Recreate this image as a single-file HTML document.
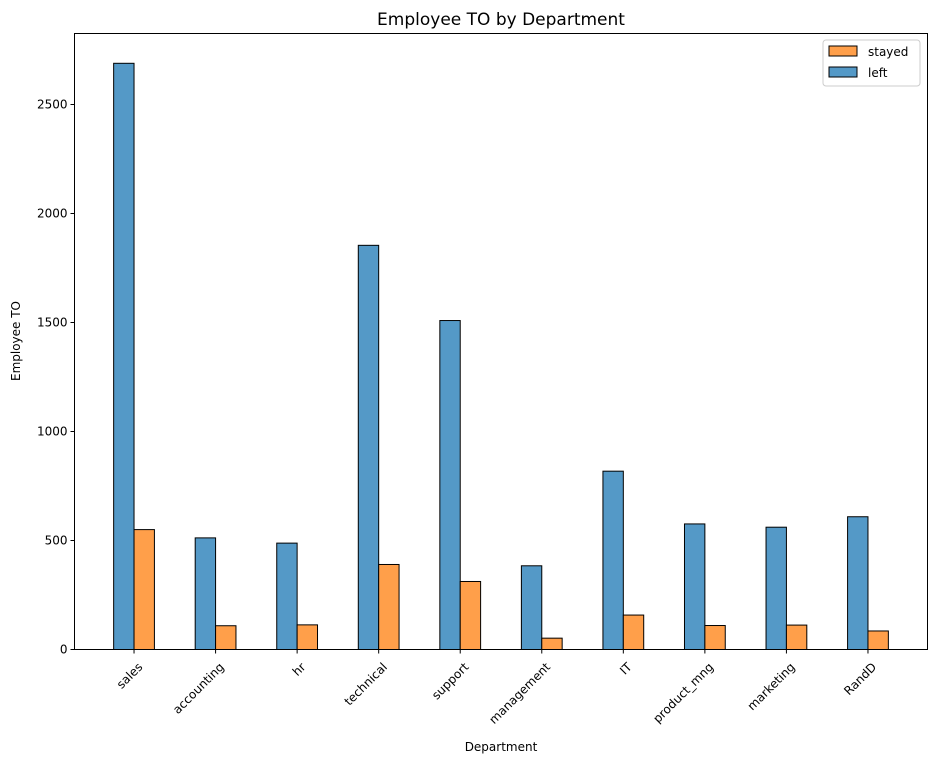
<!DOCTYPE html>
<html><head><meta charset="utf-8"><style>
body{margin:0;background:#fff;font-family:"Liberation Sans","DejaVu Sans",sans-serif}
</style></head><body>
<svg id="chart" width="936" height="764" xmlns="http://www.w3.org/2000/svg" font-family="'DejaVu Sans','Liberation Sans',sans-serif">
<text x="501" y="25" font-size="17" text-anchor="middle">Employee TO by Department</text>
<g id="plot"></g>
<text x="501" y="751" font-size="12" text-anchor="middle">Department</text>
<text transform="translate(20,341) rotate(-90)" font-size="12" text-anchor="middle">Employee TO</text>
<g>
<rect x="823" y="40" width="97" height="46" rx="3" fill="#fff" stroke="#ccc"/>
<rect x="829" y="46" width="28" height="10" fill="#ff9f4a" stroke="#000"/>
<text x="868" y="56" font-size="12">stayed</text>
<rect x="829" y="67" width="28" height="10" fill="#5499c7" stroke="#000"/>
<text x="868" y="77" font-size="12">left</text>
</g>
</svg>
<script>
const categories=["sales","accounting","hr","technical","support","management","IT","product_mng","marketing","RandD"];
const leftValues=[2689,512,488,1854,1509,384,818,576,561,609];
const stayedValues=[550,109,113,390,312,52,158,110,112,85];
const yTicks=[0,500,1000,1500,2000,2500];
const NS="http://www.w3.org/2000/svg";
const L=74.5,R=927.5,T=33.5,B=649.5;
const yScale=v=>B-v*(B-104.5)/2500;
const step=(R-L)/(categories.length-1+1.46);
const xScale=i=>L+step*(0.73+i);
const bw=step*0.25;
const g=document.getElementById('plot');
function mk(t,a){const e=document.createElementNS(NS,t);for(const k in a)e.setAttribute(k,a[k]);g.appendChild(e);return e;}
categories.forEach((c,i)=>{
 const x=xScale(i);
 const b1=mk('rect',{x:x-bw,y:yScale(leftValues[i]),width:bw,height:B-yScale(leftValues[i]),fill:'#5499c7',stroke:'#000'});
 
 
 const b2=mk('rect',{x:x,y:yScale(stayedValues[i]),width:bw,height:B-yScale(stayedValues[i]),fill:'#ff9f4a',stroke:'#000'});
 
 
 mk('line',{x1:x,x2:x,y1:B,y2:B+4,stroke:'#000'});
 const t=mk('text',{transform:`translate(${x+3},${B+12}) rotate(-45)`,'font-size':12,'text-anchor':'end','dominant-baseline':'hanging'});
 t.textContent=c;
 
 
});
yTicks.forEach(v=>{
 const y=yScale(v);
 mk('line',{x1:L-4,x2:L,y1:y,y2:y,stroke:'#000'});
 const t=mk('text',{x:L-7,y:y+4,'font-size':12,'text-anchor':'end'});
 t.textContent=v;
 
 
});
const f=mk('rect',{x:L,y:T,width:R-L,height:B-T,fill:'none',stroke:'#000'});


</script>
</body></html>
